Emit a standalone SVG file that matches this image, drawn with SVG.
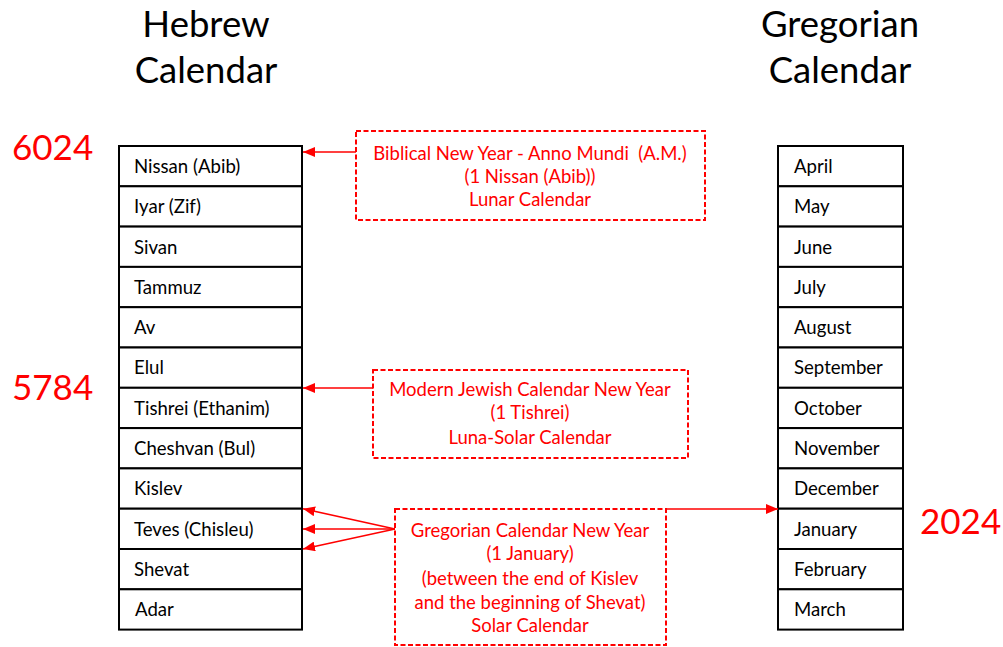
<svg xmlns="http://www.w3.org/2000/svg" width="1003" height="647" viewBox="0 0 1003 647">
<style>
text{font-family:Lato,"Open Sans","Liberation Sans",sans-serif;}
.cell{fill:#fff;stroke:#000;stroke-width:2;}
.lbl{font-size:18.6px;fill:#000;}
.title{font-size:36.5px;fill:#000;text-anchor:middle;}
.year{font-size:35px;fill:#f00;}
.note{fill:#fff;stroke:#f00;stroke-width:2;stroke-dasharray:5,2.5;}
.nt{font-size:18.5px;fill:#f00;text-anchor:middle;white-space:pre;}
.conn{stroke:#f00;stroke-width:1.5;fill:none;}
</style>
<defs>
<marker id="ah" viewBox="0 0 12 10" refX="12" refY="5" markerWidth="12" markerHeight="10" markerUnits="userSpaceOnUse" orient="auto">
<path d="M0,0 L12,5 L0,10 Z" fill="#f00"/>
</marker>
</defs>
<g id="titles">
<text class="title" x="206" y="37">Hebrew</text>
<text class="title" x="206" y="83">Calendar</text>
<text class="title" x="840" y="37">Gregorian</text>
<text class="title" x="840" y="83">Calendar</text>
</g>
<g id="years">
<text class="year" x="12" y="160">6024</text>
<text class="year" x="12" y="400">5784</text>
<text class="year" x="920" y="534">2024</text>
</g>
<g id="hebrew">
<g id="h1"><rect class="cell" x="119" y="146" width="183" height="40.3"/><text class="lbl" x="134" y="172.5">Nissan (Abib)</text></g>
<g id="h2"><rect class="cell" x="119" y="186.3" width="183" height="40.3"/><text class="lbl" x="134" y="213">Iyar (Zif)</text></g>
<g id="h3"><rect class="cell" x="119" y="226.6" width="183" height="40.3"/><text class="lbl" x="134" y="253.5">Sivan</text></g>
<g id="h4"><rect class="cell" x="119" y="266.9" width="183" height="40.3"/><text class="lbl" x="134" y="293.5">Tammuz</text></g>
<g id="h5"><rect class="cell" x="119" y="307.2" width="183" height="40.3"/><text class="lbl" x="134" y="334">Av</text></g>
<g id="h6"><rect class="cell" x="119" y="347.5" width="183" height="40.3"/><text class="lbl" x="134" y="374">Elul</text></g>
<g id="h7"><rect class="cell" x="119" y="387.8" width="183" height="40.3"/><text class="lbl" x="134" y="414.5">Tishrei (Ethanim)</text></g>
<g id="h8"><rect class="cell" x="119" y="428.1" width="183" height="40.3"/><text class="lbl" x="134" y="455">Cheshvan (Bul)</text></g>
<g id="h9"><rect class="cell" x="119" y="468.4" width="183" height="40.3"/><text class="lbl" x="134" y="495">Kislev</text></g>
<g id="h10"><rect class="cell" x="119" y="508.7" width="183" height="40.3"/><text class="lbl" x="134" y="535.5">Teves (Chisleu)</text></g>
<g id="h11"><rect class="cell" x="119" y="549" width="183" height="40.3"/><text class="lbl" x="134" y="576">Shevat</text></g>
<g id="h12"><rect class="cell" x="119" y="589.3" width="183" height="40.3"/><text class="lbl" x="135" y="616">Adar</text></g>
</g>
<g id="gregorian">
<g id="g1"><rect class="cell" x="778" y="146" width="125" height="40.3"/><text class="lbl" x="794" y="172.5">April</text></g>
<g id="g2"><rect class="cell" x="778" y="186.3" width="125" height="40.3"/><text class="lbl" x="794" y="213">May</text></g>
<g id="g3"><rect class="cell" x="778" y="226.6" width="125" height="40.3"/><text class="lbl" x="794" y="253.5">June</text></g>
<g id="g4"><rect class="cell" x="778" y="266.9" width="125" height="40.3"/><text class="lbl" x="794" y="293.5">July</text></g>
<g id="g5"><rect class="cell" x="778" y="307.2" width="125" height="40.3"/><text class="lbl" x="794" y="334">August</text></g>
<g id="g6"><rect class="cell" x="778" y="347.5" width="125" height="40.3"/><text class="lbl" x="794" y="374">September</text></g>
<g id="g7"><rect class="cell" x="778" y="387.8" width="125" height="40.3"/><text class="lbl" x="794" y="414.5">October</text></g>
<g id="g8"><rect class="cell" x="778" y="428.1" width="125" height="40.3"/><text class="lbl" x="794" y="455">November</text></g>
<g id="g9"><rect class="cell" x="778" y="468.4" width="125" height="40.3"/><text class="lbl" x="794" y="495">December</text></g>
<g id="g10"><rect class="cell" x="778" y="508.7" width="125" height="40.3"/><text class="lbl" x="794" y="535.5">January</text></g>
<g id="g11"><rect class="cell" x="778" y="549" width="125" height="40.3"/><text class="lbl" x="794" y="576">February</text></g>
<g id="g12"><rect class="cell" x="778" y="589.3" width="125" height="40.3"/><text class="lbl" x="794" y="616">March</text></g>
</g>
<g id="connectors">
<line class="conn" x1="356" y1="152" x2="303" y2="152" marker-end="url(#ah)"/>
<line class="conn" x1="373" y1="388" x2="303" y2="388" marker-end="url(#ah)"/>
<line class="conn" x1="395" y1="529" x2="303" y2="508.7" marker-end="url(#ah)"/>
<line class="conn" x1="395" y1="529" x2="303" y2="529" marker-end="url(#ah)"/>
<line class="conn" x1="395" y1="529" x2="303" y2="549" marker-end="url(#ah)"/>
<line class="conn" x1="666" y1="509" x2="778" y2="509" marker-end="url(#ah)"/>
</g>
<g id="note1">
<rect class="note" x="356" y="131" width="349" height="89"/>
<text class="nt" x="530" y="159.5">Biblical New Year - Anno Mundi  (A.M.)</text>
<text class="nt" x="530" y="182.5">(1 Nissan (Abib))</text>
<text class="nt" x="530" y="205.5">Lunar Calendar</text>
</g>
<g id="note2">
<rect class="note" x="373" y="370" width="315" height="88"/>
<text class="nt" x="530" y="395.5">Modern Jewish Calendar New Year</text>
<text class="nt" x="530" y="419">(1 Tishrei)</text>
<text class="nt" x="530" y="443.5">Luna-Solar Calendar</text>
</g>
<g id="note3">
<rect class="note" x="395" y="509" width="271" height="136"/>
<text class="nt" x="530" y="536.5">Gregorian Calendar New Year</text>
<text class="nt" x="530" y="560">(1 January)</text>
<text class="nt" x="530" y="584.5">(between the end of Kislev</text>
<text class="nt" x="530" y="608.5">and the beginning of Shevat)</text>
<text class="nt" x="530" y="631.5">Solar Calendar</text>
</g>
</svg>
